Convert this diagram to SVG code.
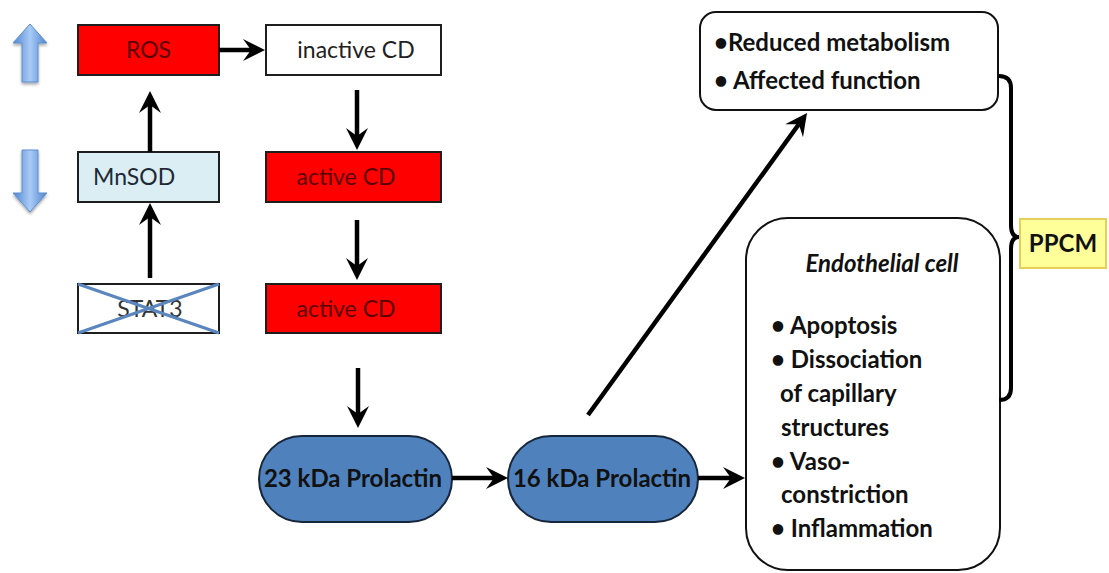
<svg xmlns="http://www.w3.org/2000/svg" width="1109" height="573" viewBox="0 0 1109 573">
  <style>
    .box { stroke: #1e1e1e; stroke-width: 2; }
    .red { fill: #ff0000; }
    .lbl { font-family: Lato, "Open Sans", sans-serif; font-size: 23px; }
    .mid { text-anchor: middle; }
    .redlbl { fill: #5a0000; }
    .bold { font-family: Lato, "Open Sans", sans-serif; font-size: 24px; font-weight: bold; fill: #111; }
    .pill { fill: #4f81bd; stroke: #17263a; stroke-width: 2; }
    .panel { fill: #ffffff; stroke: #111; stroke-width: 2; }
    .conn { stroke: #000; stroke-width: 4.5; fill: none; marker-end: url(#head); }
  </style>
  <defs>
    <marker id="head" viewBox="-24 -12 26 24" refX="-14" refY="0" markerWidth="26" markerHeight="24" markerUnits="userSpaceOnUse" orient="auto">
      <path d="M0,0 L-22,-11 L-14,0 L-22,11 Z" fill="#000"/>
    </marker>
    <linearGradient id="blueArrow" x1="0" y1="0" x2="1" y2="0">
      <stop offset="0" stop-color="#4f84d0"/>
      <stop offset="0.5" stop-color="#a9cbf6"/>
      <stop offset="1" stop-color="#4f84d0"/>
    </linearGradient>
    <filter id="soft" x="-30%" y="-30%" width="160%" height="160%">
      <feGaussianBlur in="SourceAlpha" stdDeviation="1.5"/>
      <feOffset dy="2" result="b"/>
      <feComponentTransfer><feFuncA type="linear" slope="0.35"/></feComponentTransfer>
      <feMerge><feMergeNode/><feMergeNode in="SourceGraphic"/></feMerge>
    </filter>
  </defs>

  <rect width="1109" height="573" fill="#ffffff"/>

  <!-- up / down indicator arrows -->
  <g id="arrow-up" filter="url(#soft)">
    <path d="M30,24 L47,43 L38,43 L38,82 L22,82 L22,43 L13,43 Z" fill="url(#blueArrow)" stroke="#5d8fd0" stroke-width="1"/>
  </g>
  <g id="arrow-down" filter="url(#soft)">
    <path d="M22,150 L38,150 L38,193 L47,193 L30,212 L13,193 L22,193 Z" fill="url(#blueArrow)" stroke="#5d8fd0" stroke-width="1"/>
  </g>

  <g id="ros">
    <rect class="box red" x="78" y="25" width="141" height="50"/>
    <text class="lbl mid redlbl" x="148.5" y="58">ROS</text>
  </g>
  <g id="inactive-cd">
    <rect class="box" x="266" y="25" width="175" height="50" fill="#ffffff"/>
    <text class="lbl mid" x="356" y="58" fill="#222">inactive CD</text>
  </g>
  <g id="mnsod">
    <rect class="box" x="78" y="152" width="141" height="50" fill="#dbeef4"/>
    <text class="lbl" x="93" y="185" fill="#1f2a36">MnSOD</text>
  </g>
  <g id="active-cd-1">
    <rect class="box red" x="266" y="152" width="175" height="50"/>
    <text class="lbl mid redlbl" x="346" y="185">active CD</text>
  </g>
  <g id="stat3">
    <rect class="box" x="78" y="284" width="141" height="49" fill="#ffffff"/>
    <text class="lbl mid" x="150" y="317" fill="#333">STAT3</text>
    <line x1="78" y1="284" x2="219" y2="333" stroke="#5a86bd" stroke-width="3"/>
    <line x1="78" y1="333" x2="219" y2="284" stroke="#5a86bd" stroke-width="3"/>
  </g>
  <g id="active-cd-2">
    <rect class="box red" x="266" y="284" width="175" height="49"/>
    <text class="lbl mid redlbl" x="346" y="317">active CD</text>
  </g>

  <g id="prolactin-23">
    <rect class="pill" x="259" y="436" width="193" height="86" rx="43"/>
    <text class="bold mid" x="353" y="487">23 kDa Prolactin</text>
  </g>
  <g id="prolactin-16">
    <rect class="pill" x="508" y="436" width="190" height="86" rx="43"/>
    <text class="bold mid" x="602" y="487">16 kDa Prolactin</text>
  </g>

  <g id="cardiac-effects">
    <rect class="panel" x="700" y="12" width="298" height="98" rx="16"/>
    <text class="bold" x="714" y="51">•Reduced metabolism</text>
    <text class="bold" x="714" y="89">•  Affected function</text>
  </g>

  <g id="endothelial-cell">
    <rect class="panel" x="746" y="218" width="254" height="352" rx="42"/>
    <text class="bold mid" x="882" y="272" font-size="22" font-weight="normal" font-style="italic">Endothelial cell</text>
    <text class="bold" x="771" y="334">• Apoptosis</text>
    <text class="bold" x="771" y="368">• Dissociation</text>
    <text class="bold" x="780" y="402">of capillary</text>
    <text class="bold" x="781" y="436">structures</text>
    <text class="bold" x="771" y="470">• Vaso-</text>
    <text class="bold" x="781" y="503">constriction</text>
    <text class="bold" x="771" y="537">• Inflammation</text>
  </g>

  <g id="ppcm">
    <rect x="1020" y="219" width="86" height="49" fill="#ffff99" stroke="#e3cf5a" stroke-width="2"/>
    <text class="bold mid" x="1063" y="252">PPCM</text>
  </g>

  <!-- connectors -->
  <g id="connectors">
    <line class="conn" x1="219" y1="50" x2="251" y2="50"/>
    <line class="conn" x1="150" y1="152" x2="150" y2="105"/>
    <line class="conn" x1="150" y1="278" x2="150" y2="217"/>
    <line class="conn" x1="357" y1="90" x2="357" y2="136"/>
    <line class="conn" x1="357" y1="220" x2="357" y2="266"/>
    <line class="conn" x1="358" y1="368" x2="358" y2="414"/>
    <line class="conn" x1="452" y1="478" x2="494" y2="478"/>
    <line class="conn" x1="698" y1="478" x2="731" y2="478"/>
    <line class="conn" x1="588" y1="415" x2="798.8" y2="124.3"/>
    <!-- curly brace joining both effect panels to PPCM -->
    <path d="M999,76 Q1011,76 1011,88 L1011,225 Q1011,237 1019,237 Q1011,237 1011,249 L1011,388 Q1011,400 999,400" fill="none" stroke="#000" stroke-width="4"/>
  </g>
</svg>
